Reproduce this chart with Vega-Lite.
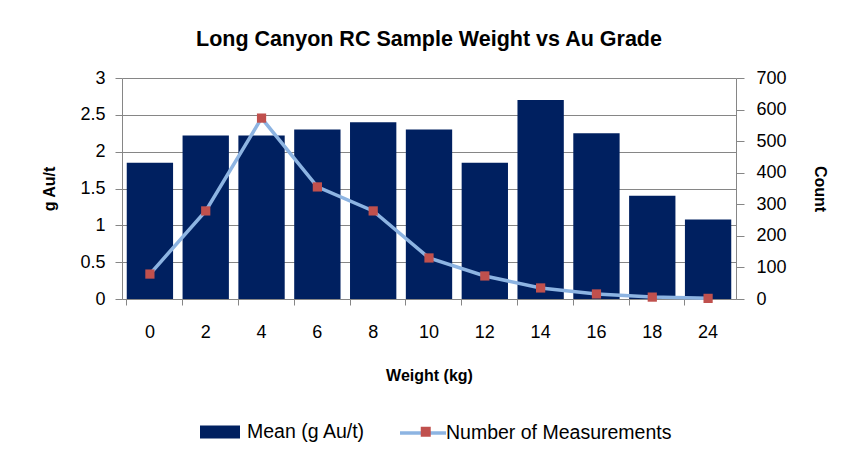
{
  "$schema": "https://vega.github.io/schema/vega-lite/v6.json",
  "width": 614,
  "height": 221,
  "autosize": {"type": "none"},
  "padding": {"left": 122, "top": 78, "right": 109, "bottom": 162},
  "background": "white",
  "title": {
    "text": "Long Canyon RC Sample Weight vs Au Grade",
    "font": "Liberation Sans",
    "fontSize": 21.5,
    "fontWeight": "bold",
    "color": "#000000",
    "anchor": "middle",
    "frame": "group",
    "offset": 19
  },
  "data": {
    "values": [
      {"weight": "0", "mean": 1.85, "count": 79},
      {"weight": "2", "mean": 2.22, "count": 279},
      {"weight": "4", "mean": 2.22, "count": 573},
      {"weight": "6", "mean": 2.3, "count": 355},
      {"weight": "8", "mean": 2.4, "count": 279},
      {"weight": "10", "mean": 2.3, "count": 130},
      {"weight": "12", "mean": 1.85, "count": 73},
      {"weight": "14", "mean": 2.7, "count": 35},
      {"weight": "16", "mean": 2.25, "count": 16},
      {"weight": "18", "mean": 1.4, "count": 6},
      {"weight": "24", "mean": 1.08, "count": 2}
    ]
  },
  "encoding": {
    "x": {
      "field": "weight",
      "type": "ordinal",
      "sort": null,
      "scale": {"paddingInner": 0.17, "paddingOuter": 0.085},
      "axis": {
        "title": "Weight (kg)",
        "labelAngle": 0,
        "bandPosition": 0,
        "tickSize": 6,
        "labelPadding": 18,
        "titlePadding": 26
      }
    }
  },
  "layer": [
    {
      "mark": {"type": "bar", "color": "#002060"},
      "encoding": {
        "y": {
          "field": "mean",
          "type": "quantitative",
          "scale": {"domain": [0, 3]},
          "axis": {
            "title": "g Au/t",
            "orient": "left",
            "values": [0, 0.5, 1, 1.5, 2, 2.5, 3],
            "format": "~g",
            "grid": true,
            "tickSize": 7,
            "labelPadding": 10,
            "titlePadding": 22
          }
        },
        "fill": {
          "datum": "Mean (g Au/t)",
          "scale": {"range": ["#002060"]},
          "legend": {
            "orient": "none",
            "legendX": 78,
            "legendY": 334,
            "title": null,
            "symbolType": "M-1,-0.32H1V0.32H-1Z",
            "symbolSize": 1600,
            "symbolStrokeWidth": 0,
            "labelOffset": 7
          }
        }
      }
    },
    {
      "mark": {"type": "line", "color": "#8DB4E2", "strokeWidth": 3.5},
      "encoding": {
        "y": {
          "field": "count",
          "type": "quantitative",
          "scale": {"domain": [0, 700]},
          "axis": {
            "title": "Count",
            "orient": "right",
            "values": [0, 100, 200, 300, 400, 500, 600, 700],
            "grid": false,
            "tickSize": 8,
            "labelPadding": 12,
            "titlePadding": 25
          }
        },
        "stroke": {
          "datum": "Number of Measurements",
          "scale": {"range": ["#8DB4E2"]},
          "legend": {
            "orient": "none",
            "legendX": 276,
            "legendY": 330,
            "title": null,
            "symbolType": "M-1,0H1",
            "symbolSize": 2116,
            "symbolStrokeWidth": 3.5,
            "labelOffset": -2
          }
        }
      }
    },
    {
      "mark": {"type": "point", "filled": true, "color": "#C0504D", "size": 85, "opacity": 1},
      "encoding": {
        "y": {"field": "count", "type": "quantitative", "scale": {"domain": [0, 700]}, "axis": null},
        "shape": {
          "datum": "Number of Measurements",
          "scale": {"range": ["square"]},
          "legend": {
            "orient": "none",
            "legendX": 294,
            "legendY": 344,
            "title": null,
            "symbolSize": 100,
            "symbolFillColor": "#C0504D",
            "symbolStrokeWidth": 0,
            "symbolOpacity": 1,
            "labelExpr": "''"
          }
        }
      }
    }
  ],
  "resolve": {"scale": {"y": "independent", "fill": "independent", "stroke": "independent", "shape": "independent"}},
  "config": {
    "view": {"stroke": null},
    "font": "Liberation Sans",
    "axis": {
      "domainColor": "#868686",
      "tickColor": "#868686",
      "gridColor": "#868686",
      "gridWidth": 1,
      "domainWidth": 1,
      "tickWidth": 1,
      "labelFont": "Liberation Sans",
      "labelFontSize": 18,
      "labelColor": "#000000",
      "titleFont": "Liberation Sans",
      "titleFontSize": 16,
      "titleFontWeight": "bold",
      "titleColor": "#000000"
    },
    "legend": {
      "labelFont": "Liberation Sans",
      "labelFontSize": 19.5,
      "labelColor": "#000000",
      "labelLimit": 400,
      "padding": 0
    }
  }
}
